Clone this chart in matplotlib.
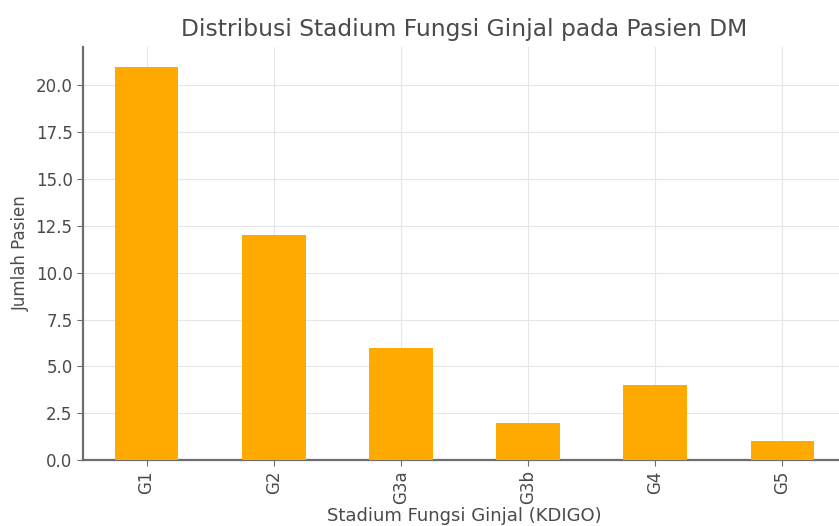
import matplotlib
matplotlib.use("Agg")
import matplotlib.pyplot as plt

# Number of DM patients per KDIGO kidney-function stage
stages = ["G1", "G2", "G3a", "G3b", "G4", "G5"]
patients = [21, 12, 6, 2, 4, 1]

bar_color = "#ffaa00"
text_color = "#4a4a4a"
spine_color = "#6e6e6e"

plt.rcParams["font.family"] = ["DejaVu Sans"]

fig = plt.figure(figsize=(8.39, 5.26), dpi=100)
ax = fig.add_axes([0.0989, 0.1255, 0.9094, 0.785])

x = range(len(stages))
ax.bar(x, patients, width=0.5, color=bar_color, zorder=3)
ax.set_xlim(-0.5, len(stages) - 0.5)
ax.set_ylim(0, max(patients) * 1.05)
ax.set_yticks([0, 2.5, 5, 7.5, 10, 12.5, 15, 17.5, 20])
ax.set_yticklabels([f"{v:.1f}" for v in ax.get_yticks()])
ax.set_xticks(list(x))
ax.set_xticklabels(stages, rotation=90)

ax.grid(True, color="#e6e6e6", linewidth=0.8, zorder=0)
for side in ("top", "right"):
    ax.spines[side].set_visible(False)
for side in ("left", "bottom"):
    ax.spines[side].set_color(spine_color)
    ax.spines[side].set_linewidth(1.6)

ax.tick_params(colors=spine_color, labelcolor=text_color, labelsize=12, length=4)

ax.set_title("Distribusi Stadium Fungsi Ginjal pada Pasien DM",
             fontsize=16.8, color=text_color, pad=8)
ax.set_xlabel("Stadium Fungsi Ginjal (KDIGO)", fontsize=13, color=text_color, labelpad=2)
ax.set_ylabel("Jumlah Pasien", fontsize=12, color=text_color)

fig.savefig("out.png", dpi=100)
